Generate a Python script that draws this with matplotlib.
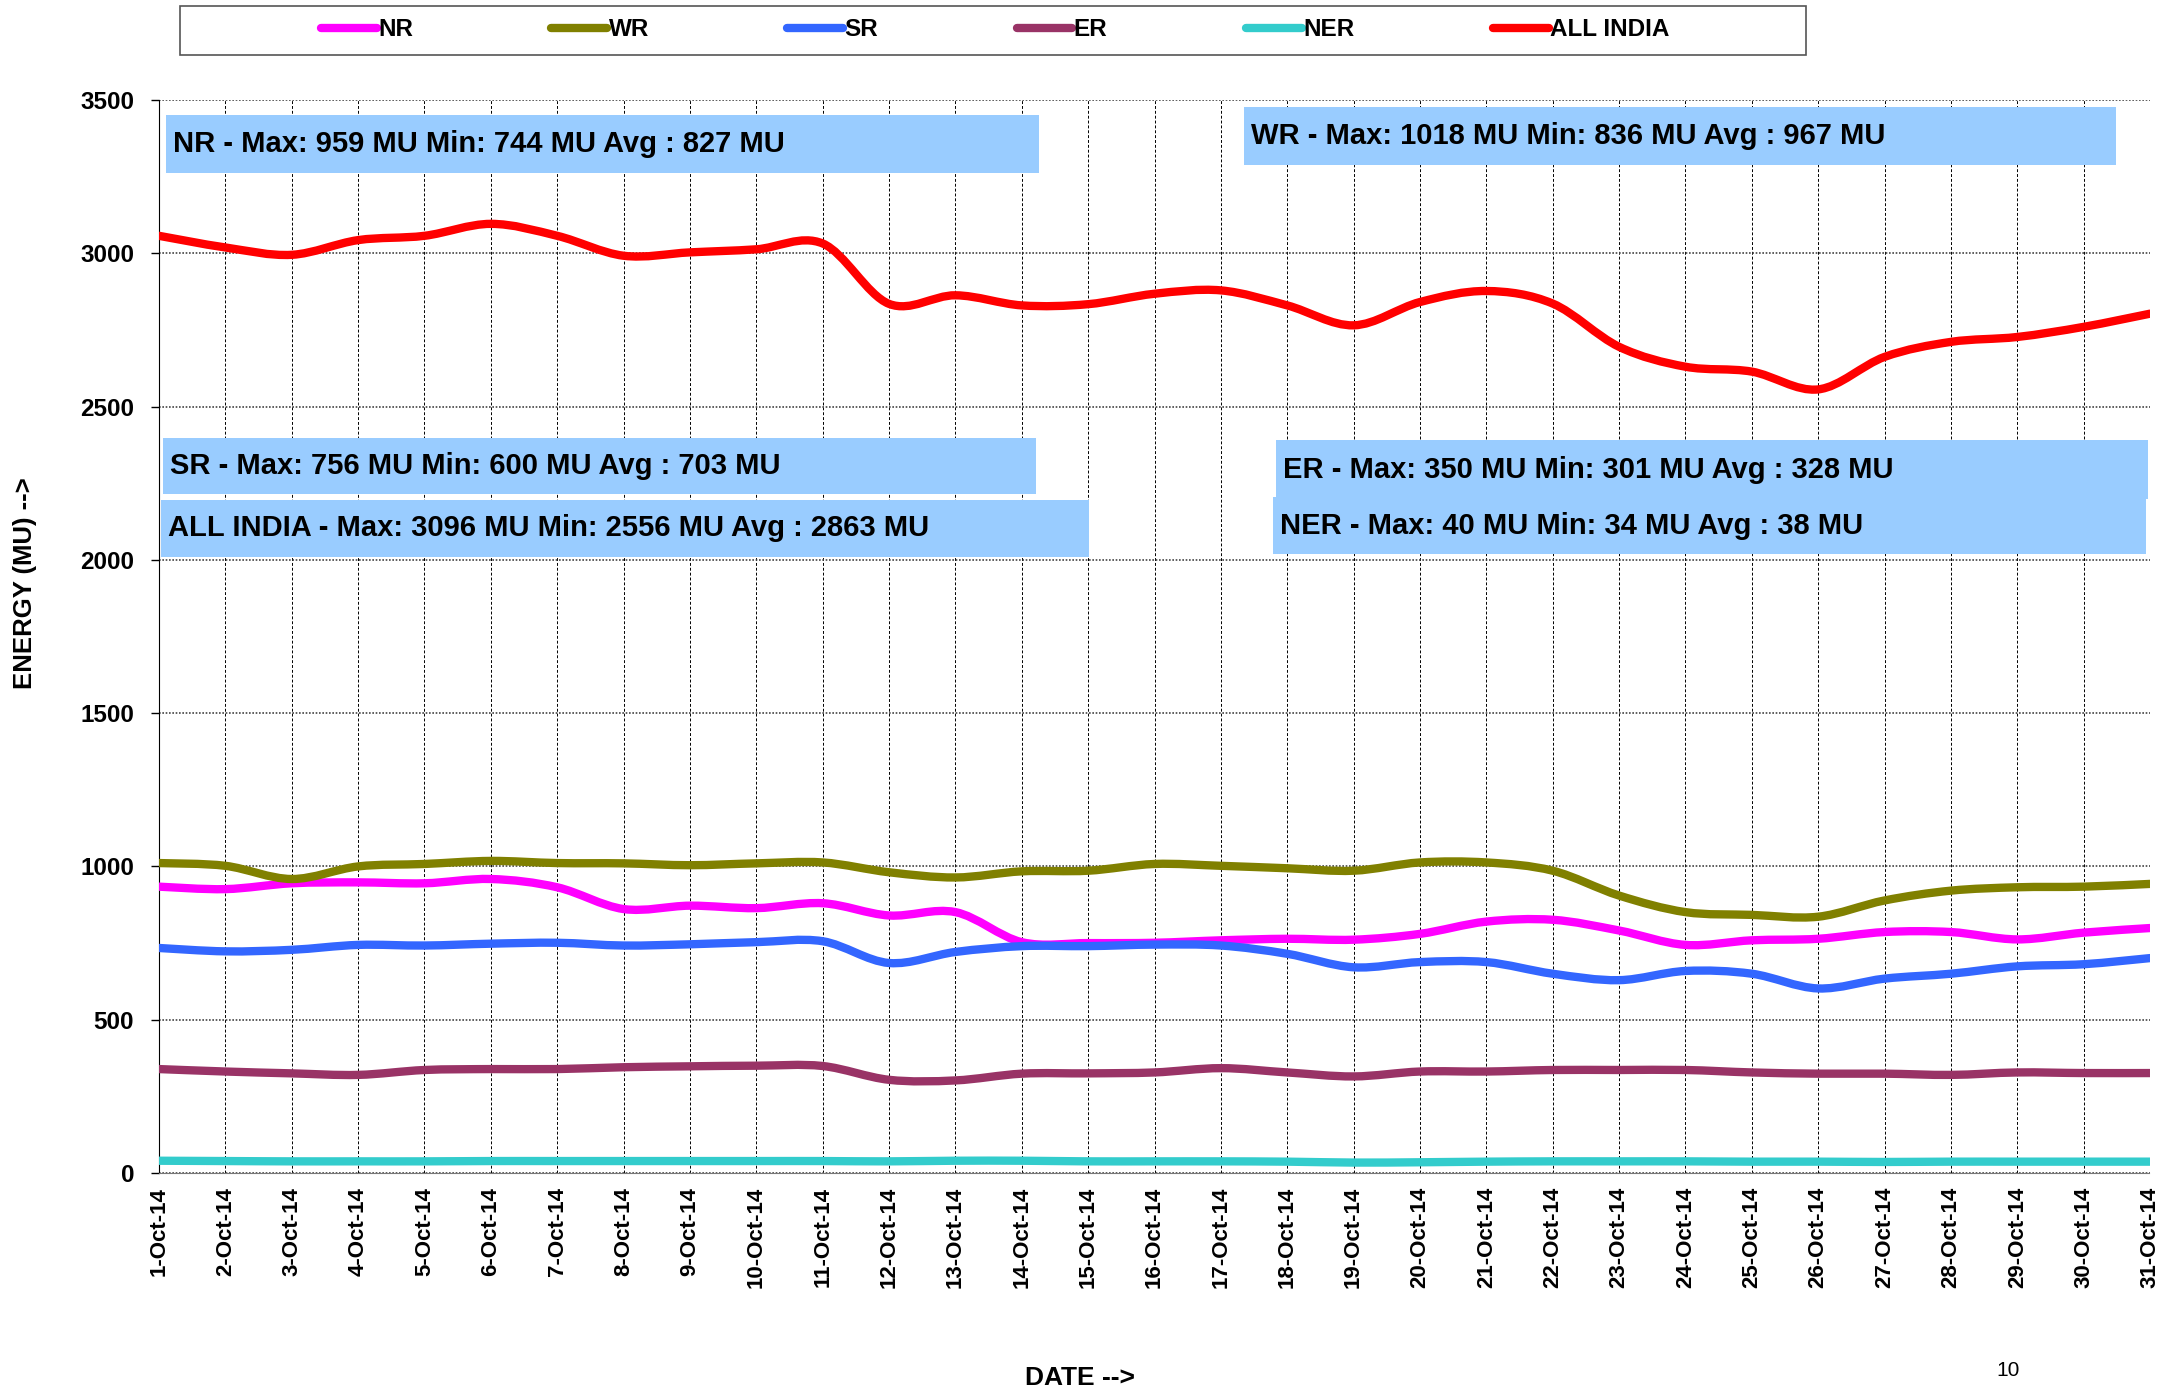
import matplotlib
matplotlib.use("Agg")
import matplotlib.pyplot as plt
from matplotlib.path import Path
from matplotlib.patches import PathPatch, Rectangle
from matplotlib.lines import Line2D

plt.rcParams["font.family"] = ["Liberation Sans", "DejaVu Sans"]

days = list(range(1, 32))
day_labels = ["%d-Oct-14" % d for d in days]

nr = [934, 926, 945, 948, 945, 959, 932, 861, 872, 864, 880, 840, 851, 753, 750, 751,
      759, 764, 761, 780, 820, 826, 791, 744, 759, 764, 786, 786, 762, 784, 799]
wr = [1011, 1002, 959, 1000, 1008, 1018, 1011, 1010, 1004, 1010, 1013, 981, 964, 984, 986, 1008,
      1002, 994, 986, 1013, 1013, 986, 905, 851, 842, 836, 889, 921, 932, 934, 943]
sr = [734, 723, 728, 744, 742, 748, 751, 742, 746, 753, 756, 685, 721, 740, 740, 745,
      742, 715, 671, 688, 688, 650, 629, 659, 650, 602, 634, 650, 674, 681, 701]
er = [339, 331, 325, 320, 336, 339, 339, 345, 348, 350, 349, 304, 302, 324, 325, 328,
      342, 328, 315, 331, 331, 336, 336, 336, 328, 324, 324, 320, 328, 326, 326]
ner = [40, 39, 38, 38, 38, 39, 39, 39, 39, 39, 39, 38, 40, 40, 38, 38,
       38, 37, 34, 35, 37, 38, 38, 38, 37, 37, 36, 37, 37, 37, 37]
all_india = [3057, 3019, 2995, 3043, 3057, 3096, 3057, 2992, 3003, 3013, 3032, 2835, 2863, 2830, 2834, 2868,
             2879, 2830, 2765, 2841, 2877, 2836, 2695, 2630, 2614, 2556, 2662, 2711, 2727, 2760, 2803]

series_names = ["NR", "WR", "SR", "ER", "NER", "ALL INDIA"]
series_colors = ["#FF00FF", "#808000", "#3366FF", "#993366", "#33CCCC", "#FF0000"]
series_data = [nr, wr, sr, er, ner, all_india]

box_texts = [
    "NR - Max: 959 MU Min: 744 MU Avg : 827 MU",
    "WR - Max: 1018 MU Min: 836 MU Avg : 967 MU",
    "SR - Max: 756 MU Min: 600 MU Avg : 703 MU",
    "ALL INDIA - Max: 3096 MU Min: 2556 MU Avg : 2863 MU",
    "ER - Max: 350 MU Min: 301 MU Avg : 328 MU",
    "NER - Max: 40 MU Min: 34 MU Avg : 38 MU",
]
# box extents in pixels (x0, y0, x1, y1) from the top-left corner
box_px = [
    (166, 115, 1039, 173),
    (1244, 107, 2116, 165),
    (163, 438, 1036, 494),
    (161, 500, 1089, 557),
    (1276, 440, 2148, 499),
    (1273, 497, 2146, 554),
]

W, H = 2172, 1394


def smooth_path(xs, ys):
    # excel style smoothed line: bezier segments with catmull-rom controls
    n = len(xs)
    verts = [(xs[0], ys[0])]
    codes = [Path.MOVETO]
    for i in range(n - 1):
        p0 = max(i - 1, 0)
        p3 = min(i + 2, n - 1)
        c1 = (xs[i] + (xs[i + 1] - xs[p0]) / 6.0, ys[i] + (ys[i + 1] - ys[p0]) / 6.0)
        c2 = (xs[i + 1] - (xs[p3] - xs[i]) / 6.0, ys[i + 1] - (ys[p3] - ys[i]) / 6.0)
        verts += [c1, c2, (xs[i + 1], ys[i + 1])]
        codes += [Path.CURVE4] * 3
    return Path(verts, codes)


fig = plt.figure(figsize=(W / 100, H / 100), dpi=100)
ax = fig.add_axes([159 / W, 1 - 1173 / H, (2150 - 159) / W, (1173 - 100) / H])

for name, color, vals in zip(series_names, series_colors, series_data):
    ax.add_patch(PathPatch(smooth_path(days, vals), facecolor="none", edgecolor=color,
                           lw=6, capstyle="round", joinstyle="round", zorder=3))

ax.set_xlim(1, 31)
ax.set_ylim(0, 3500)
ax.set_xticks(days)
ax.set_xticklabels(day_labels, rotation=90, fontsize=16, fontweight="bold")
ax.set_yticks(range(0, 3501, 500))
ax.set_yticklabels([str(v) for v in range(0, 3501, 500)], fontsize=17.5, fontweight="bold")
ax.tick_params(axis="x", length=0, pad=10)
ax.tick_params(axis="y", length=6, width=1, direction="out", pad=12)

ax.grid(axis="x", color="black", linestyle=(0, (3, 2)), linewidth=0.7)
ax.grid(axis="y", color="#444444", linestyle=(0, (1, 1)), linewidth=1.2)
for s in ["top", "right"]:
    ax.spines[s].set_visible(False)
ax.spines["left"].set_color("black")
ax.spines["bottom"].set_color("#777777")
ax.spines["bottom"].set_linestyle((0, (1, 1)))

# annotation boxes
for (x0, y0, x1, y1), txt in zip(box_px, box_texts):
    fig.patches.append(Rectangle((x0 / W, 1 - y1 / H), (x1 - x0) / W, (y1 - y0) / H,
                                 transform=fig.transFigure, facecolor="#99CCFF",
                                 edgecolor="none", zorder=5))
    fig.text((x0 + 7) / W, 1 - ((y0 + y1) / 2) / H, txt, fontsize=21, fontweight="bold",
             ha="left", va="center", zorder=6)

# legend with a separate frame
fig.patches.append(Rectangle((180 / W, 1 - 55 / H), 1626 / W, 49 / H, transform=fig.transFigure,
                             facecolor="white", edgecolor="#555555", lw=1.2, zorder=1))
handles = [Line2D([0], [0], color=c, lw=6, solid_capstyle="round") for c in series_colors]
fig.legend(handles, series_names, loc="center", bbox_to_anchor=(995 / W, 1 - 30 / H), ncol=6,
           frameon=False, prop={"weight": "bold", "size": 17.5}, handlelength=2.3,
           handletextpad=0.05, columnspacing=5.7)

fig.text(25 / W, 1 - 583 / H, "ENERGY (MU) -->", rotation=90, fontsize=18.5, fontweight="bold",
         ha="center", va="center")
fig.text(1080 / W, 1 - 1378 / H, "DATE -->", fontsize=19, fontweight="bold", ha="center", va="center")
fig.text(2008 / W, 1 - 1371 / H, "10", fontsize=15, ha="center", va="center")

fig.savefig("out.png", dpi=100)
